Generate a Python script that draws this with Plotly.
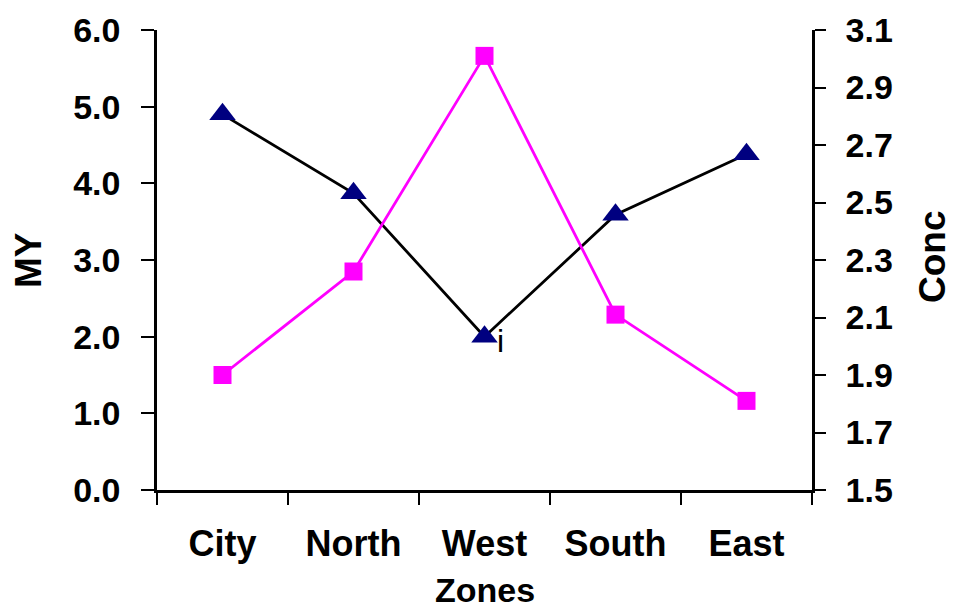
import plotly.graph_objects as go

# Zone categories and the two measured series
zones = ["City", "North", "West", "South", "East"]
my_values = [4.9, 3.87, 2.0, 3.59, 4.38]
conc_values = [1.9, 2.26, 3.01, 2.11, 1.81]

# Axis tick values
my_ticks = [0.0, 1.0, 2.0, 3.0, 4.0, 5.0, 6.0]
conc_ticks = [1.5, 1.7, 1.9, 2.1, 2.3, 2.5, 2.7, 2.9, 3.1]

FONT = "Liberation Sans, Arial, sans-serif"
BOLD_TICK = dict(family=FONT, size=34, color="black", weight="bold")

fig = go.Figure()

fig.add_trace(go.Scatter(
    x=zones, y=my_values, name="MY", yaxis="y",
    mode="lines+markers",
    line=dict(color="black", width=2.8),
    marker=dict(symbol="triangle-up", size=23, color="#000080"),
))

fig.add_trace(go.Scatter(
    x=zones, y=conc_values, name="Conc", yaxis="y2",
    mode="lines+markers",
    line=dict(color="#FF00FF", width=2.8),
    marker=dict(symbol="square", size=18, color="#FF00FF"),
))

# label beside the West point
fig.add_annotation(
    x="West", y=my_values[2], xref="x", yref="y",
    text="i", showarrow=False, xanchor="left", yanchor="middle",
    xshift=10, yshift=-4,
    font=dict(family=FONT, size=32, color="black"),
)

# axis titles
fig.add_annotation(x=0.5, y=(490 - 590) / 460, xref="paper", yref="paper", text="Zones",
                   showarrow=False, xanchor="center", yanchor="middle",
                   font=dict(family=FONT, size=34, color="black", weight="bold"))
fig.add_annotation(x=(28 - 157) / 655, y=0.5, xref="paper", yref="paper", text="MY",
                   textangle=-90, showarrow=False, xanchor="center", yanchor="middle",
                   font=dict(family=FONT, size=37, color="black", weight="bold"))
fig.add_annotation(x=(932 - 157) / 655, y=(490 - 257) / 460, xref="paper", yref="paper", text="Conc",
                   textangle=-90, showarrow=False, xanchor="center", yanchor="middle",
                   font=dict(family=FONT, size=37, color="black", weight="bold"))

fig.update_layout(
    width=956, height=611,
    margin=dict(l=157, r=144, t=30, b=121),
    paper_bgcolor="white", plot_bgcolor="white",
    showlegend=False,
    xaxis=dict(
        type="category", range=[-0.5, 4.5],
        tickson="boundaries", ticks="outside", ticklen=12, tickwidth=2, tickcolor="black",
        showline=True, linecolor="black", linewidth=2.5,
        showgrid=False, zeroline=False,
        tickfont=dict(family=FONT, size=36, color="black", weight="bold"),
        ticklabelstandoff=20,
    ),
    yaxis=dict(
        range=[0, 6], tickvals=my_ticks, tickformat=".1f",
        ticks="outside", ticklen=13, tickwidth=2, tickcolor="black",
        showline=True, linecolor="black", linewidth=2.5,
        showgrid=False, zeroline=False,
        tickfont=BOLD_TICK, ticklabelstandoff=14,
    ),
    yaxis2=dict(
        range=[1.5, 3.1], tickvals=conc_ticks, tickformat=".1f",
        overlaying="y", side="right", anchor="x",
        ticks="outside", ticklen=11, tickwidth=2, tickcolor="black",
        showline=True, linecolor="black", linewidth=2.5,
        showgrid=False, zeroline=False,
        tickfont=BOLD_TICK, ticklabelstandoff=13,
    ),
    # inner halves of the crossing ticks on the right axis
    yaxis3=dict(
        range=[1.5, 3.1], tickvals=conc_ticks,
        overlaying="y", side="right", anchor="x",
        ticks="inside", ticklen=12, tickwidth=2, tickcolor="black",
        showticklabels=False, showline=False,
        showgrid=False, zeroline=False,
    ),
)

fig.write_html("out.html")
